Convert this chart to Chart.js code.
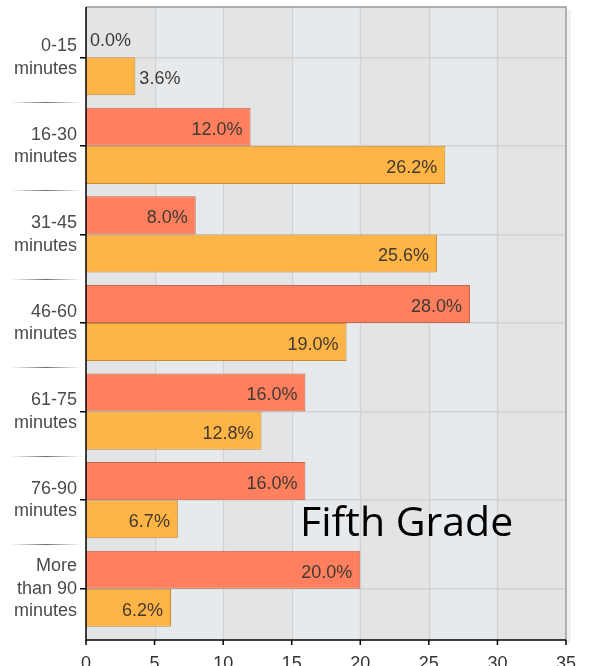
<!DOCTYPE html>
<html>
<head>
<meta charset="utf-8">
<script src="https://cdn.jsdelivr.net/npm/chart.js@4"></script>
<style>
  html, body { margin: 0; padding: 0; background: #fff; overflow: hidden; }
  #wrap { position: relative; width: 589px; height: 680px; }
  #grade { position: absolute; left: 300px; top: 492px; font: 41px "Open Sans", sans-serif; color: #000; white-space: nowrap; }
</style>
</head>
<body>
<div id="wrap">
  <canvas id="chart" width="589" height="680"></canvas>
  <div id="grade">Fifth Grade</div>
</div>
<script>
// --- commute time data ---
const categories = [
  ['0-15', 'minutes'],
  ['16-30', 'minutes'],
  ['31-45', 'minutes'],
  ['46-60', 'minutes'],
  ['61-75', 'minutes'],
  ['76-90', 'minutes'],
  ['More', 'than 90', 'minutes']
];
const redValues = [0.0, 12.0, 8.0, 28.0, 16.0, 16.0, 20.0];
const orangeValues = [3.6, 26.2, 25.6, 19.0, 12.8, 6.7, 6.2];
const xTicks = [0, 5, 10, 15, 20, 25, 30, 35];

const FRAME_TOP = 7;
const FRAME_BOTTOM = 640;
const labelFont = '18px "Liberation Sans", Arial, sans-serif';

// plot background, frame and left separators
const framePlugin = {
  id: 'frame',
  beforeDraw(chart) {
    const ctx = chart.ctx;
    const x = chart.scales.x;
    const y = chart.scales.y;
    const right = chart.chartArea.right;
    ctx.save();
    // soft shadow right
    ctx.fillStyle = 'rgba(0,0,0,0.06)';
    ctx.fillRect(right + 1, FRAME_TOP + 3, 4, FRAME_BOTTOM - FRAME_TOP);
    for (let i = 0; i < xTicks.length - 1; i++) {
      const x0 = x.getPixelForValue(xTicks[i]);
      const x1 = x.getPixelForValue(xTicks[i + 1]);
      ctx.fillStyle = i % 2 === 0 ? '#e3e4e6' : '#e7eaed';
      ctx.fillRect(x0, FRAME_TOP, x1 - x0, FRAME_BOTTOM - FRAME_TOP);
    }
    ctx.strokeStyle = '#d2d2d2';
    ctx.lineWidth = 1.5;
    xTicks.slice(1, -1).forEach(t => {
      const px = Math.round(x.getPixelForValue(t)) + 0.5;
      ctx.beginPath();
      ctx.moveTo(px, FRAME_TOP);
      ctx.lineTo(px, FRAME_BOTTOM);
      ctx.stroke();
    });
    // separators between categories, left of the axis
    for (let i = 0; i < categories.length - 1; i++) {
      const py = Math.round((y.getPixelForValue(i) + y.getPixelForValue(i + 1)) / 2) + 0.5;
      const g = ctx.createLinearGradient(10, 0, 82, 0);
      g.addColorStop(0, 'rgba(120,120,120,0)');
      g.addColorStop(0.5, 'rgba(90,90,90,0.9)');
      g.addColorStop(1, 'rgba(120,120,120,0)');
      ctx.strokeStyle = g;
      ctx.lineWidth = 1;
      ctx.beginPath();
      ctx.moveTo(10, py);
      ctx.lineTo(82, py);
      ctx.stroke();
    }
    ctx.restore();
  },
  afterDraw(chart) {
    const ctx = chart.ctx;
    const x = chart.scales.x;
    const left = chart.chartArea.left;
    const right = chart.chartArea.right;
    ctx.save();
    ctx.strokeStyle = '#9a9a9a';
    ctx.lineWidth = 1.5;
    ctx.beginPath();
    ctx.moveTo(left, FRAME_TOP);
    ctx.lineTo(right, FRAME_TOP);
    ctx.lineTo(right, FRAME_BOTTOM);
    ctx.stroke();
    ctx.strokeStyle = '#000';
    ctx.lineWidth = 1.5;
    ctx.beginPath();
    ctx.moveTo(left, FRAME_TOP);
    ctx.lineTo(left, FRAME_BOTTOM);
    ctx.lineTo(right, FRAME_BOTTOM);
    ctx.stroke();
    xTicks.forEach(t => {
      const px = x.getPixelForValue(t);
      ctx.beginPath();
      ctx.moveTo(px, FRAME_BOTTOM);
      ctx.lineTo(px, FRAME_BOTTOM + 5);
      ctx.stroke();
    });
    ctx.restore();
  }
};

// percent labels on the bars
const valueLabels = {
  id: 'valueLabels',
  afterDatasetsDraw(chart) {
    const ctx = chart.ctx;
    ctx.save();
    ctx.font = labelFont;
    ctx.fillStyle = '#403a33';
    ctx.textBaseline = 'middle';
    chart.data.datasets.forEach((ds, di) => {
      chart.getDatasetMeta(di).data.forEach((bar, i) => {
        const text = ds.data[i].toFixed(1) + '%';
        const w = ctx.measureText(text).width;
        if (bar.x - bar.base > w + 12) {
          ctx.textAlign = 'right';
          ctx.fillText(text, bar.x - 8, bar.y + 3);
        } else {
          ctx.textAlign = 'left';
          ctx.fillText(text, bar.x + 4, bar.y + 3);
        }
      });
    });
    ctx.restore();
  }
};

new Chart(document.getElementById('chart'), {
  type: 'bar',
  data: {
    labels: categories,
    datasets: [
      {
        label: 'Fifth Grade',
        data: redValues,
        backgroundColor: '#ff7f5e',
        borderColor: '#c0674d',
        borderWidth: 1,
        borderSkipped: 'start'
      },
      {
        label: 'All',
        data: orangeValues,
        backgroundColor: '#ffb446',
        borderColor: '#c48c38',
        borderWidth: 1,
        borderSkipped: 'start'
      }
    ]
  },
  options: {
    indexAxis: 'y',
    responsive: false,
    animation: false,
    layout: { padding: { top: 13, right: 23, left: 0, bottom: 0 } },
    barPercentage: 1.0,
    categoryPercentage: 0.86,
    plugins: {
      legend: { display: false },
      tooltip: { enabled: false }
    },
    scales: {
      x: {
        min: 0,
        max: 35,
        afterFit(scale) {
          scale.height = 47;
          scale.paddingLeft = 0;
          scale.paddingRight = 0;
        },
        ticks: {
          stepSize: 5,
          padding: 12,
          color: '#333',
          font: { family: '"Liberation Sans", Arial, sans-serif', size: 18 }
        },
        grid: { display: false },
        border: { display: false }
      },
      y: {
        afterFit(scale) {
          scale.width = 86;
          scale.paddingTop = 0;
          scale.paddingBottom = 0;
        },
        ticks: {
          padding: 3,
          color: '#4a4a4a',
          font: { family: '"Liberation Sans", Arial, sans-serif', size: 18, lineHeight: 1.25 }
        },
        grid: {
          offset: false,
          color: '#d2d2d2',
          lineWidth: 1.5,
          tickColor: '#000',
          tickLength: 6
        },
        border: { display: false }
      }
    }
  },
  plugins: [framePlugin, valueLabels]
});
</script>
</body>
</html>
